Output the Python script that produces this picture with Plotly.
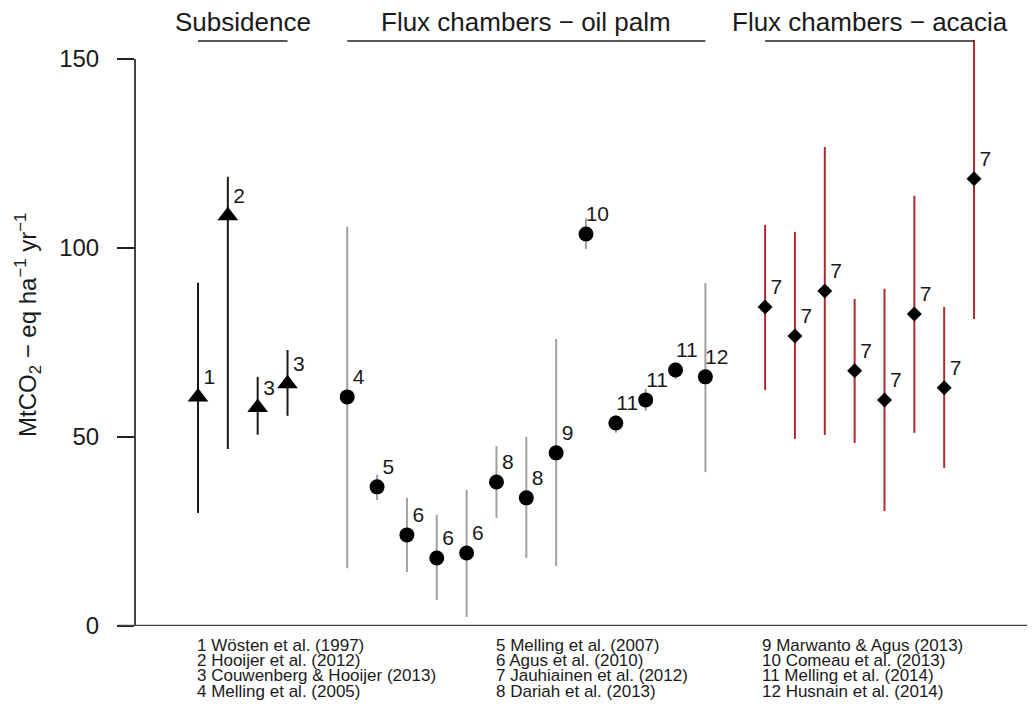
import plotly.graph_objects as go

# ---------------- data ----------------
sub_x = [1, 2, 3, 4]
sub_y = [60.6, 108.5, 57.8, 64.1]
sub_hi = [90.8, 118.8, 65.9, 73.0]
sub_lo = [29.9, 46.8, 50.6, 55.6]
sub_lab = ["1", "2", "3", "3"]

oil_x = [6, 7, 8, 9, 10, 11, 12, 13, 14, 15, 16, 17, 18]
oil_y = [60.6, 36.8, 24.1, 18.0, 19.3, 38.1, 33.9, 45.8, 103.7, 53.7, 59.8, 67.7, 65.9]
oil_hi = [105.6, 40.0, 33.9, 29.4, 36.0, 47.6, 50.0, 75.9, 107.9, 55.8, 62.7, 69.8, 90.7]
oil_lo = [15.3, 33.3, 14.3, 6.9, 2.4, 28.6, 18.0, 15.9, 99.7, 51.1, 56.9, 65.3, 40.7]
oil_lab = ["4", "5", "6", "6", "6", "8", "8", "9", "10", "11", "11", "11", "12"]

aca_x = [20, 21, 22, 23, 24, 25, 26, 27]
aca_y = [84.4, 76.7, 88.6, 67.5, 59.8, 82.5, 63.0, 118.3]
aca_hi = [106.1, 104.2, 126.7, 86.5, 89.2, 113.8, 84.4, 155.0]
aca_lo = [62.4, 49.5, 50.5, 48.4, 30.4, 51.1, 41.8, 81.2]
aca_lab = ["7"] * 8

group_titles = ["Subsidence", "Flux chambers \u2212 oil palm", "Flux chambers \u2212 acacia"]
y_ticks = [0, 50, 100, 150]

references = [
    "1 W\u00f6sten et al. (1997)", "2 Hooijer et al. (2012)",
    "3 Couwenberg & Hooijer (2013)", "4 Melling et al. (2005)",
    "5 Melling et al. (2007)", "6 Agus et al. (2010)",
    "7 Jauhiainen et al. (2012)", "8 Dariah et al. (2013)",
    "9 Marwanto & Agus (2013)", "10 Comeau et al. (2013)",
    "11 Melling et al. (2014)", "12 Husnain et al. (2014)",
]

# ---------------- layout constants ----------------
OFF = 8                      # page body margin
PAGE_W, PAGE_H = 1035, 713
W, H = PAGE_W - OFF, PAGE_H - OFF
PL, PR, PT, PB = 135, 1020, 40, 626   # plot box in page pixels
ML, MT = PL - OFF, PT - OFF
MR = W - (PR - OFF)
MB = H - (PB - OFF)
PW = PR - PL
PH = PB - PT
FONT = "Liberation Sans, Arial, sans-serif"
TXT = "#1a1a1a"
YMAX = 155
XR = [-1.11, 28.54]


def px_to_paper_x(px):
    return (px - PL) / PW


def py_to_paper_y(py):
    return (PB - py) / PH


fig = go.Figure()


def add_group(xs, ys, hi, lo, labs, bar_color, symbol, size):
    fig.add_trace(go.Scatter(
        x=xs, y=ys, mode="markers",
        marker=dict(symbol=symbol, size=size, color="black", line=dict(width=0)),
        error_y=dict(type="data", symmetric=False,
                     array=[h - v for h, v in zip(hi, ys)],
                     arrayminus=[v - l for v, l in zip(ys, lo)],
                     color=bar_color, thickness=2, width=0),
        showlegend=False, cliponaxis=False,
    ))
    fig.add_trace(go.Scatter(
        x=[v + 0.38 for v in xs], y=[v + 4.8 for v in ys], mode="text",
        text=labs, textposition="middle center",
        textfont=dict(family=FONT, size=21, color=TXT),
        showlegend=False, cliponaxis=False,
    ))


add_group(sub_x, sub_y, sub_hi, sub_lo, sub_lab, "#1a1a1a", "triangle-up", 18)
add_group(oil_x, oil_y, oil_hi, oil_lo, oil_lab, "#a0a0a0", "circle", 15)
add_group(aca_x, aca_y, aca_hi, aca_lo, aca_lab, "#b22a2a", "diamond", 11.5)

shapes = []
annotations = []

# group header lines & titles
for title, xs in zip(group_titles, [sub_x, oil_x, aca_x]):
    shapes.append(dict(type="line", xref="x", yref="paper",
                       x0=min(xs), x1=max(xs), y0=py_to_paper_y(41), y1=py_to_paper_y(41),
                       line=dict(color="#222222", width=1.6)))
    annotations.append(dict(xref="x", yref="paper", x=(min(xs) + max(xs)) / 2,
                            y=py_to_paper_y(22), yanchor="middle", xanchor="center",
                            text=title, showarrow=False,
                            font=dict(family=FONT, size=26, color=TXT)))

# y axis line (only between first and last tick)
shapes.append(dict(type="line", xref="paper", yref="y", x0=0, x1=0,
                   y0=y_ticks[0], y1=y_ticks[-1],
                   line=dict(color="#222222", width=1.7)))
# bottom horizontal line
shapes.append(dict(type="line", xref="paper", yref="y",
                   x0=px_to_paper_x(118), x1=px_to_paper_x(PAGE_W), y0=0, y1=0,
                   line=dict(color="#444444", width=2.5)))

# y axis title
annotations.append(dict(
    xref="paper", yref="paper", x=px_to_paper_x(28), y=py_to_paper_y(325),
    text="MtCO<sub>2</sub> \u2212 eq ha<sup>\u22121</sup> yr<sup>\u22121</sup>",
    textangle=-90, showarrow=False, xanchor="center", yanchor="middle",
    font=dict(family=FONT, size=24, color=TXT)))

# reference list, 3 columns x 4 rows
col_px = [196, 495, 761]
row_py = [645.5, 660.7, 675.9, 691.1]
for i, ref in enumerate(references):
    c, r = divmod(i, 4)
    annotations.append(dict(
        xref="paper", yref="paper", x=px_to_paper_x(col_px[c]),
        y=py_to_paper_y(row_py[r]), xanchor="left", yanchor="middle",
        text=ref, showarrow=False, borderpad=0,
        font=dict(family=FONT, size=17, color=TXT)))

fig.update_layout(
    width=W, height=H,
    margin=dict(l=ML, r=MR, t=MT, b=MB, pad=0),
    plot_bgcolor="white", paper_bgcolor="white",
    xaxis=dict(range=XR, visible=False, showgrid=False, zeroline=False),
    yaxis=dict(range=[0, YMAX], tickvals=y_ticks, ticks="outside", ticklen=17,
               tickwidth=1.7, tickcolor="#222222", showline=False,
               showgrid=False, zeroline=False, ticklabelstandoff=13,
               tickfont=dict(family=FONT, size=24, color=TXT)),
    shapes=shapes, annotations=annotations,
    showlegend=False,
)

fig.write_html("out.html")
